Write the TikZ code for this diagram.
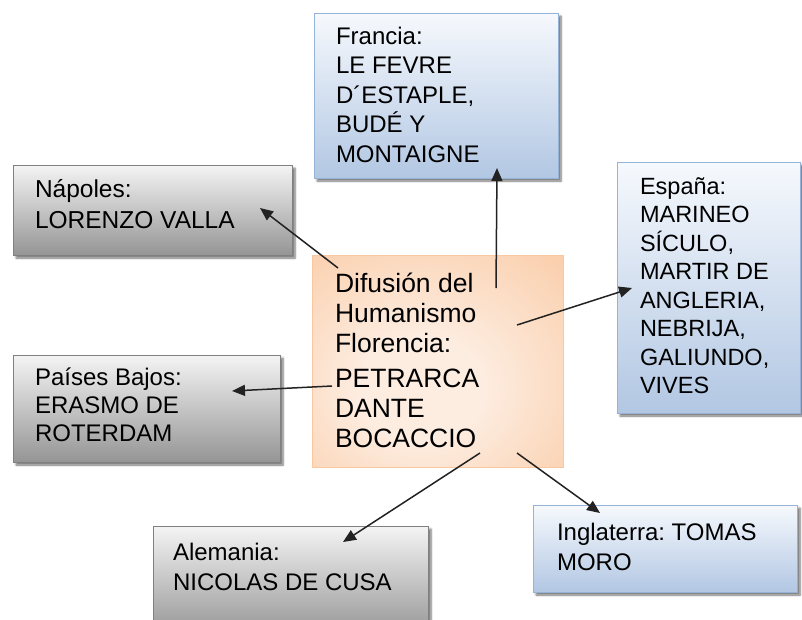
\documentclass[tikz,border=0pt]{standalone}
\usepackage{fontspec}
\setmainfont{Liberation Sans}
\frenchspacing
\usetikzlibrary{arrows.meta,shadows.blur}
\definecolor{grayT}{HTML}{F4F4F4}
\definecolor{grayB}{HTML}{959595}
\definecolor{grayE}{HTML}{808080}
\definecolor{blueT}{HTML}{F6F9FD}
\definecolor{blueB}{HTML}{B2C7E3}
\definecolor{blueE}{HTML}{95B3D7}
\definecolor{oL}{HTML}{FDEDE1}
\definecolor{oM}{HTML}{F9C296}
\definecolor{oD}{HTML}{F6AA70}
\definecolor{oE}{HTML}{F9C7A0}
\definecolor{arrowc}{HTML}{222222}
\pgfdeclareradialshading{orangeglow}{\pgfpoint{-4bp}{-8bp}}{color(0bp)=(oL);color(12bp)=(oL);color(50bp)=(oM);color(72bp)=(oD)}
\tikzset{
  box/.style={draw, rectangle, line width=0.8pt, inner sep=0pt, outer sep=0pt, anchor=north west},
  shd/.style={blur shadow={shadow xshift=3pt, shadow yshift=-3pt, shadow blur radius=2pt, shadow blur steps=6, shadow opacity=55}},
  graybox/.style={box, shd, draw=grayE, top color=grayT, bottom color=grayB},
  bluebox/.style={box, shd, draw=blueE, top color=blueT, bottom color=blueB},
  orangebox/.style={box, draw=oE, shading=orangeglow},
  lbl/.style={anchor=base west, inner sep=0pt, outer sep=0pt, text=black, font=\fontsize{24}{29.5}\selectfont},
  arr/.style={line width=1.5pt, draw=arrowc, -{Triangle[length=13pt,width=11pt]}}
}
\begin{document}
\begin{tikzpicture}[x=1pt,y=-1pt]
\path[use as bounding box] (0,0) rectangle (802,619);
\clip (0,0) rectangle (802,619);
% boxes
\node[bluebox, minimum width=244pt, minimum height=165pt] (francia) at (314,13) {};
\node[graybox, minimum width=279pt, minimum height=90pt] (napoles) at (13,165) {};
\node[bluebox, minimum width=183pt, minimum height=251pt] (espana) at (617,162) {};
\node[orangebox, minimum width=251pt, minimum height=212pt] (centro) at (312,255) {};
\node[graybox, minimum width=267pt, minimum height=107pt] (paises) at (13,355) {};
\node[graybox, minimum width=275pt, minimum height=110pt] (alemania) at (153,526) {};
\node[bluebox, minimum width=264pt, minimum height=87pt] (inglaterra) at (533,505) {};
% texts
\node[lbl] (francia-t) at (336,44) {\begin{tabular}[t]{@{}l@{}}Francia:\\LE FEVRE\\D´ESTAPLE,\\BUDÉ Y\\MONTAIGNE\end{tabular}};
\node[lbl, font=\fontsize{24.5}{31}\selectfont] (napoles-t) at (35,197) {\begin{tabular}[t]{@{}l@{}}Nápoles:\\LORENZO VALLA\end{tabular}};
\node[lbl, font=\fontsize{23.5}{28.5}\selectfont] (espana-t) at (640,194) {\begin{tabular}[t]{@{}l@{}}España:\\MARINEO\\SÍCULO,\\MARTIR DE\\ANGLERIA,\\NEBRIJA,\\GALIUNDO,\\VIVES\end{tabular}};
\node[lbl, font=\fontsize{26.5}{30}\selectfont] (centro-t) at (335,292) {\begin{tabular}[t]{@{}l@{}}Difusión del\\Humanismo\\Florencia:\\[5pt]PETRARCA\\DANTE\\BOCACCIO\end{tabular}};
\node[lbl, font=\fontsize{24}{28}\selectfont] (paises-t) at (35,385) {\begin{tabular}[t]{@{}l@{}}Países Bajos:\\ERASMO DE\\ROTERDAM\end{tabular}};
\node[lbl, font=\fontsize{24}{30}\selectfont] (alemania-t) at (173,560) {\begin{tabular}[t]{@{}l@{}}Alemania:\\NICOLAS DE CUSA\end{tabular}};
\node[lbl, font=\fontsize{24}{30}\selectfont] (inglaterra-t) at (557,540) {\begin{tabular}[t]{@{}l@{}}Inglaterra: TOMAS\\MORO\end{tabular}};
% connector end points
\coordinate (s-fr) at (496,288);
\coordinate (e-fr) at (497,168);
\coordinate (s-na) at (338,268);
\coordinate (e-na) at (260,208);
\coordinate (s-es) at (517,325);
\coordinate (e-es) at (632,288);
\coordinate (s-pb) at (332,386);
\coordinate (e-pb) at (232,391);
\coordinate (s-al) at (480,453);
\coordinate (e-al) at (343,542);
\coordinate (s-in) at (517,453);
\coordinate (e-in) at (600,513);
\draw[arr] (s-fr) -- (e-fr);
\draw[arr] (s-na) -- (e-na);
\draw[arr] (s-es) -- (e-es);
\draw[arr] (s-pb) -- (e-pb);
\draw[arr] (s-al) -- (e-al);
\draw[arr] (s-in) -- (e-in);
\end{tikzpicture}
\end{document}
